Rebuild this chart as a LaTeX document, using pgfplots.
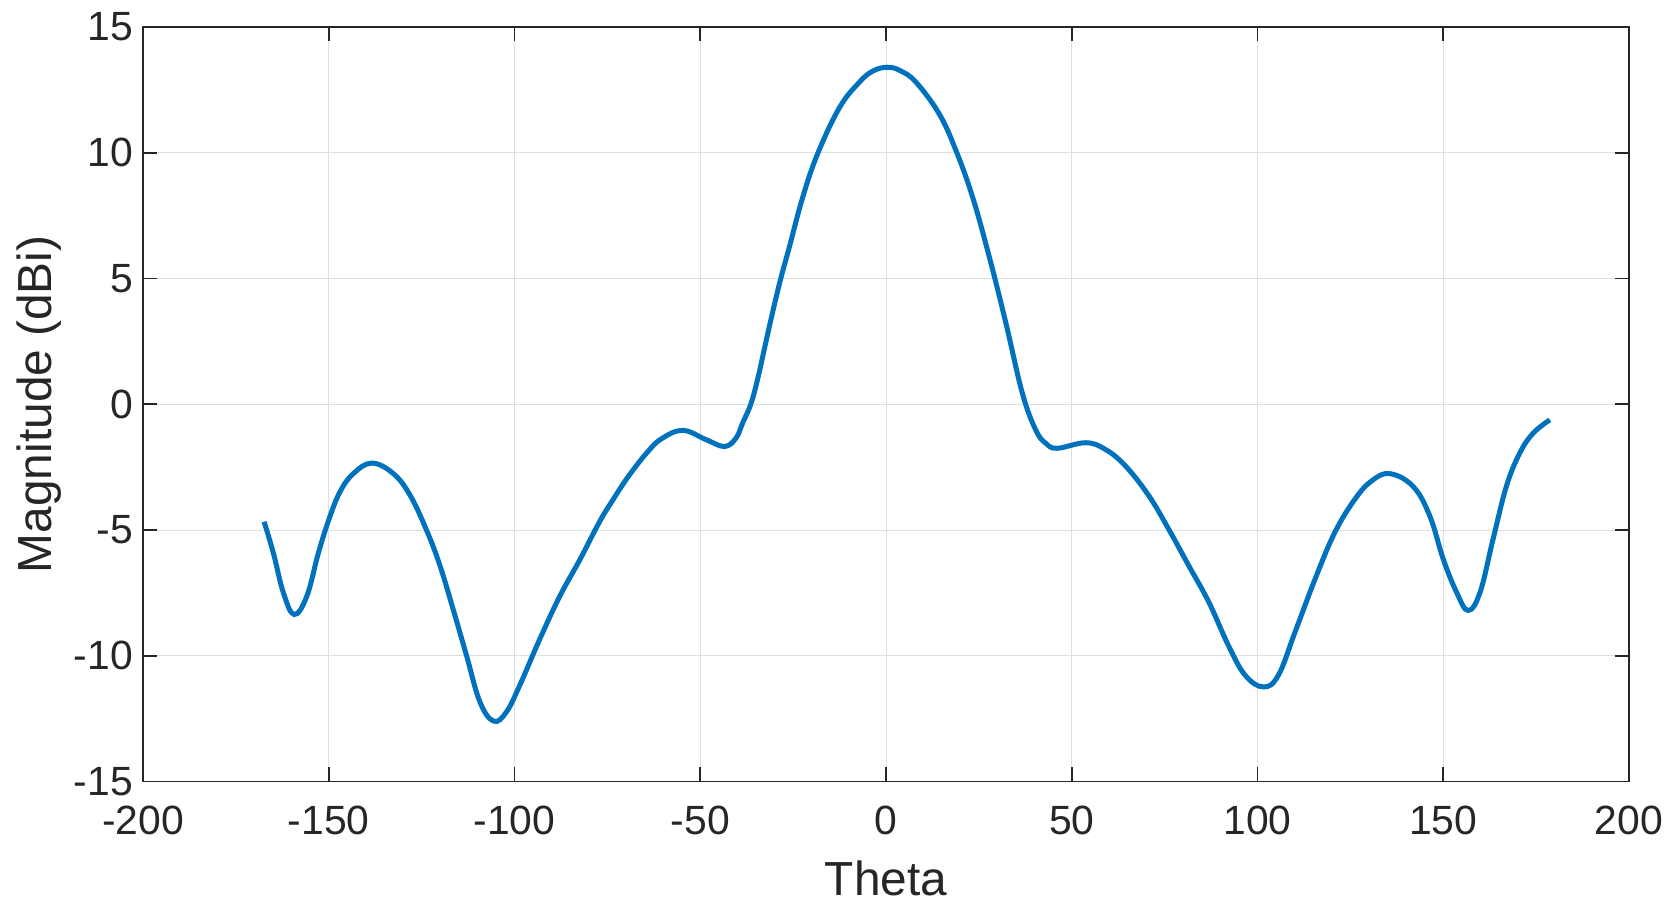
\documentclass[border=0pt]{standalone}
\usepackage{fontspec}
\setmainfont{Liberation Sans}
\usepackage{pgfplots}
\pgfplotsset{compat=1.18}
\definecolor{mblue}{RGB}{0,114,189}
\definecolor{mtext}{RGB}{38,38,38}
\definecolor{mgrid}{RGB}{223,223,223}

\begin{document}
\begin{tikzpicture}
  \begin{axis}[
    scale only axis, width=743bp, height=377.25bp,
    xmin=-200, xmax=200, ymin=-15, ymax=15,
    xtick={-200,-150,...,200}, ytick={-15,-10,...,15},
    tick align=inside, major tick length=7bp,
    xtick pos=both, ytick pos=both,
    grid=major, grid style={mgrid, line width=0.5bp},
    axis line style={mtext, line width=0.9bp},
    every tick/.style={mtext, line width=0.9bp},
    /pgf/number format/assume math mode=true,
    tick label style={font=\fontsize{20.5}{22}\selectfont, text=mtext},
    xticklabel style={yshift=-8.5bp},
    yticklabel style={xshift=-1.5bp},
    xlabel={Theta}, ylabel={Magnitude (dBi)},
    every axis x label/.style={at={(axis description cs:0.5,-0.1515)}, anchor=base,
      font=\fontsize{24}{26}\selectfont, text=mtext},
    every axis y label/.style={at={(axis description cs:-0.0614,0.5)}, anchor=base, rotate=90,
      font=\fontsize{24}{26}\selectfont, text=mtext},
  ]
    \addplot[mblue, line width=2.5bp, smooth, tension=0.65] coordinates {
      (-167.4,-4.67) (-164.9,-5.92) (-162.2,-7.5) (-159.3,-8.36)
      (-155.9,-7.63) (-152.8,-5.92) (-150,-4.6) (-147,-3.49)
      (-143.4,-2.76) (-138.4,-2.34) (-132.6,-2.76) (-128.1,-3.62)
      (-123.7,-5.0) (-120.1,-6.4) (-116.5,-8.16) (-112.9,-10)
      (-109.3,-11.84) (-105.6,-12.6) (-102.2,-12.24) (-98.6,-11.18)
      (-93.2,-9.34) (-87.8,-7.63) (-82.4,-6.18) (-77.1,-4.67)
      (-73.5,-3.8) (-69.5,-2.9) (-64.5,-1.95) (-60.5,-1.38)
      (-54.7,-1.04) (-48.4,-1.41) (-43.5,-1.68) (-40.4,-1.35)
      (-38.6,-0.75) (-36.4,0) (-34.6,0.97) (-32.8,2.16) (-31,3.35)
      (-28.5,4.9) (-26,6.26) (-22.4,8.24) (-18.4,9.96) (-12.5,11.8)
      (-7.2,12.8) (-3.5,13.25) (0.45,13.4) (4,13.25) (8.1,12.8)
      (14.3,11.55) (18.8,10.1) (23.3,8.24) (27.8,5.86)
      (32.3,3.21) (36.7,0.44) (40.3,-1.02) (43,-1.55) (46.1,-1.75)
      (53.8,-1.53) (59.1,-1.8) (64.5,-2.46) (70.8,-3.65)
      (76.1,-4.97) (81.5,-6.42) (86.9,-7.87) (92.2,-9.6)
      (96.7,-10.78) (101.6,-11.24) (105.6,-10.78) (110.1,-9.06)
      (115.5,-6.95) (120.8,-5.1) (126.2,-3.78) (130.7,-3.05)
      (135.6,-2.76) (141.9,-3.27) (146.4,-4.45) (150,-6.16)
      (153.6,-7.48) (156.7,-8.2) (159.9,-7.48) (163.4,-5.37)
      (167,-3.26) (170.6,-1.94) (174.2,-1.15) (178.7,-0.62)
    };
  \end{axis}
  \pgfresetboundingbox
  \path[use as bounding box]
    ([shift={(-71.5bp,-61bp)}]current axis.south west)
    rectangle ([shift={(20bp,13.5bp)}]current axis.north east);
\end{tikzpicture}
\end{document}
